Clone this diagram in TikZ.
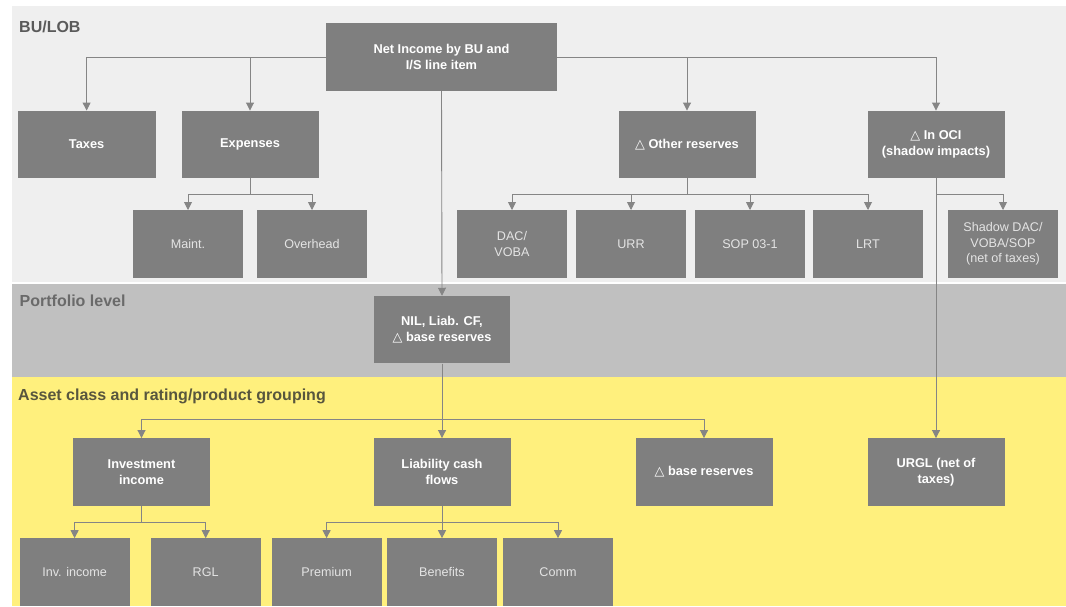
\documentclass[tikz,border=0pt]{standalone}
\usepackage{fontspec}
\setmainfont{Liberation Sans}
\newfontfamily\symf{DejaVu Sans}
\usetikzlibrary{arrows.meta}

\definecolor{bandlight}{HTML}{EFEFEF}
\definecolor{bandmid}{HTML}{C0C0C0}
\definecolor{bandyellow}{HTML}{FFF07D}
\definecolor{boxgray}{HTML}{7F7F7F}
\definecolor{linegray}{HTML}{858585}
\definecolor{leaftext}{HTML}{E4E4E4}
\definecolor{labeldark}{HTML}{5A5A5A}
\definecolor{labelmid}{HTML}{6A6A6A}
\definecolor{labelolive}{HTML}{58563E}

% outlined delta sign used in several box texts
\newcommand\dtri{{\symf\mdseries △}}

\tikzset{
  mainbox/.style={rectangle, fill=boxgray, text=white, inner sep=0pt,
    align=center, minimum width=137pt, minimum height=67.5pt,
    font=\bfseries\fontsize{12.8}{15.6}\selectfont},
  leafbox/.style={rectangle, fill=boxgray, text=leaftext, inner sep=0pt,
    align=center, minimum width=110pt, minimum height=68pt,
    font=\fontsize{12.6}{15.5}\selectfont},
  wire/.style={draw=linegray, line width=0.9pt,
    -{Triangle[width=8pt,length=8pt]}},
  plainwire/.style={draw=linegray, line width=0.9pt},
  bandlabel/.style={anchor=base west, inner sep=0pt,
    font=\bfseries\fontsize{16}{18}\selectfont}
}

\begin{document}
\begin{tikzpicture}[x=1pt,y=-1pt]
\useasboundingbox (0,0) rectangle (1066,606);

% background bands
\fill[bandlight]  (12,6)   rectangle (1066,282);
\fill[bandmid]    (12,284) rectangle (1066,377);
\fill[bandyellow] (12,377) rectangle (1066,606);

% band titles
\node[bandlabel, text=labeldark]  (lblbu)    at (19,32.3)  {BU/LOB};
\node[bandlabel, text=labelmid]   (lblport)  at (19.5,306.5) {Portfolio level};
\node[bandlabel, text=labelolive] (lblasset) at (18,400.5) {Asset class and rating/product grouping};

% BU/LOB level
\node[mainbox, minimum width=231pt, minimum height=68pt] (netinc) at (441.5,57) {Net Income by BU and\\I/S line item};
\node[mainbox, minimum width=138pt] (taxes)    at (86.6,144.5) {Taxes};
\node[mainbox] (expenses) at (250,144.5) {Expenses};
\node[mainbox] (othres)   at (687,144.5) {\dtri\ Other reserves};
\node[mainbox] (oci)      at (936,144.5) {\dtri\ In OCI\\(shadow impacts)};

\node[leafbox] (maint)    at (188,244.2)  {Maint.};
\node[leafbox] (overhead) at (312,244.2)  {Overhead};
\node[leafbox] (dac)      at (512,244.2)  {DAC/\\VOBA};
\node[leafbox] (urr)      at (631,244.2)  {URR};
\node[leafbox] (sop)      at (750,244.2)  {SOP 03-1};
\node[leafbox] (lrt)      at (868,244.2)  {LRT};
\node[leafbox] (shadow)   at (1003,244.2) {Shadow DAC/\\VOBA/SOP\\(net of taxes)};

% portfolio level
\node[mainbox, minimum width=136.5pt] (nil) at (442,329.7) {NIL, Liab. CF,\\\dtri\ base reserves};

% asset class / product grouping level
\node[mainbox] (invest) at (141.5,472) {Investment\\income};
\node[mainbox] (liab)   at (442,472)   {Liability cash\\flows};
\node[mainbox] (basres) at (704,472)   {\dtri\ base reserves};
\node[mainbox] (urgl)   at (936,472)   {URGL (net of\\taxes)};

\node[leafbox, minimum height=67.7pt] (invinc)   at (74.6,572.2)  {Inv. income};
\node[leafbox, minimum height=67.7pt] (rgl)      at (205.7,572.2) {RGL};
\node[leafbox, minimum height=67.7pt] (premium)  at (326.6,572.2) {Premium};
\node[leafbox, minimum height=67.7pt] (benefits) at (442,572.2)   {Benefits};
\node[leafbox, minimum height=67.7pt] (comm)     at (558,572.2)   {Comm};

% branch points
\coordinate (expB) at (250,194.3);
\coordinate (orB)  at (687,194.3);
\coordinate (ociB) at (936,194.3);
\coordinate (nilB) at (442,419.3);
\coordinate (invB) at (141.5,522.7);
\coordinate (liaB) at (442,522.7);

% connectors from net income
\draw[wire] (netinc.west) -| (taxes.north);
\draw[wire] (netinc.west) -| (expenses.north);
\draw[wire] (netinc.east) -| (othres.north);
\draw[wire] (netinc.east) -| (oci.north);
\draw[wire] (netinc.south) -- (nil.north);

% expenses
\draw[plainwire] (expenses.south) -- (expB);
\draw[wire] (expB) -| (maint.north);
\draw[wire] (expB) -| (overhead.north);

% other reserves
\draw[plainwire] (othres.south) -- (orB);
\draw[wire] (orB) -| (dac.north);
\draw[wire] (orB) -| (urr.north);
\draw[wire] (orB) -| (sop.north);
\draw[wire] (orB) -| (lrt.north);

% OCI
\draw[wire] (oci.south) -- (urgl.north);
\draw[wire] (ociB) -| (shadow.north);

% portfolio level
\draw[wire] (nil.south) -- (liab.north);
\draw[wire] (nilB) -| (invest.north);
\draw[wire] (nilB) -| (basres.north);

% investment income
\draw[plainwire] (invest.south) -- (invB);
\draw[wire] (invB) -| (invinc.north);
\draw[wire] (invB) -| (rgl.north);

% liability cash flows
\draw[wire] (liab.south) -- (benefits.north);
\draw[wire] (liaB) -| (premium.north);
\draw[wire] (liaB) -| (comm.north);
\end{tikzpicture}
\end{document}
